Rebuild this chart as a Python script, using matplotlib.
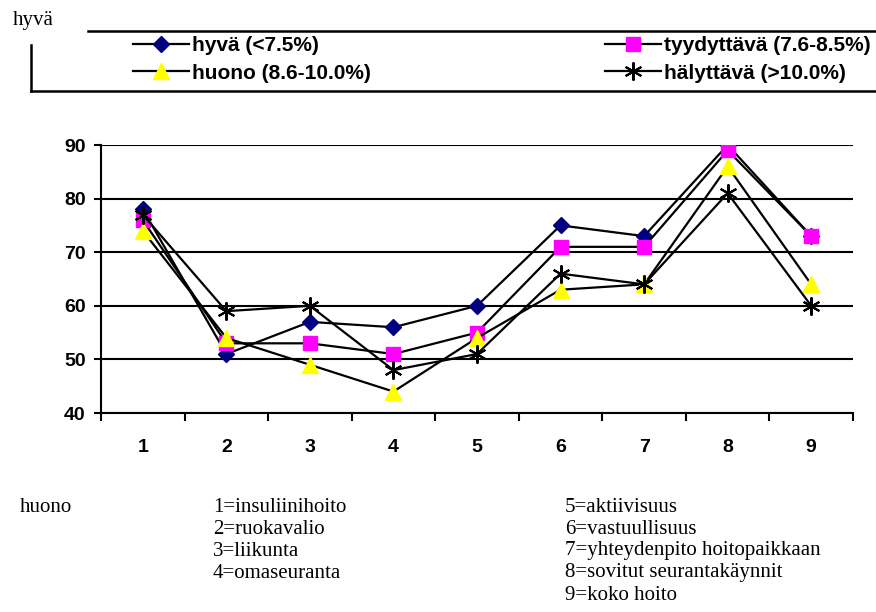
import numpy as np
import matplotlib
matplotlib.use("Agg")
from matplotlib import pyplot as plt
from matplotlib.lines import Line2D

# arvot kysymyksittäin (1-9), ryhmät HbA1c:n mukaan
kysymykset = [1, 2, 3, 4, 5, 6, 7, 8, 9]
hyva = [78, 51, 57, 56, 60, 75, 73, 90, 73]
tyydyttava = [76, 53, 53, 51, 55, 71, 71, 89, 73]
huono = [74, 54, 49, 44, 54, 63, 64, 86, 64]
halyttava = [77, 59, 60, 48, 51, 66, 64, 81, 60]

nimet = ['hyvä (<7.5%)', 'tyydyttävä (7.6-8.5%)',
         'huono (8.6-10.0%)', 'hälyttävä (>10.0%)']
selitteet_vasen = ['1=insuliinihoito', '2=ruokavalio', '3=liikunta', '4=omaseuranta']
selitteet_oikea = ['5=aktiivisuus', '6=vastuullisuus', '7=yhteydenpito hoitopaikkaan',
                   '8=sovitut seurantakäynnit', '9=koko hoito']

plt.rcParams['font.family'] = ['Liberation Sans', 'DejaVu Sans']

W, H = 876, 612
fig = plt.figure(figsize=(W / 100, H / 100), dpi=100)
ax = fig.add_axes([101 / W, 1 - 413 / H, 752 / W, 268 / H])

tyylit = [
    dict(marker='D', color='black', mfc='#000080', mec='#000080', ms=8),
    dict(marker='s', color='black', mfc='#ff00ff', mec='#ff00ff', ms=10),
    dict(marker='^', color='black', mfc='#ffff00', mec='#ffff00', ms=11),
    dict(marker=(6, 2, 0), color='black', mfc='black', mec='black', ms=13, mew=1.5),
]
sarjat = [hyva, tyydyttava, huono, halyttava]
viivat = []
for y, st, nimi in zip(sarjat, tyylit, nimet):
    l, = ax.plot(kysymykset, y, lw=1.6, label=nimi, **st)
    viivat.append(l)

ax.set_xlim(0.5, 9.5)
ax.set_ylim(40, 90)
ax.set_yticks(np.arange(40, 91, 10))
ax.yaxis.grid(True, color='black', lw=1.5)
ax.set_axisbelow(True)
ax.set_xticks(np.arange(0.5, 9.6, 1))
ax.set_xticklabels([])
ax.set_xticks(kysymykset, minor=True)
ax.set_xticklabels([str(k) for k in kysymykset], minor=True)
ax.tick_params(axis='x', which='minor', length=0, pad=19)
ax.tick_params(axis='x', which='major', length=6, width=1.5, direction='out')
ax.tick_params(axis='y', length=5, width=1.5, direction='out', pad=6)
for lab in ax.get_xticklabels(minor=True) + ax.get_yticklabels():
    lab.set_fontsize(14)
    lab.set_fontweight('bold')
for s in ['top', 'right']:
    ax.spines[s].set_visible(False)
for s in ['left', 'bottom']:
    ax.spines[s].set_linewidth(1.5)

# selite kahdessa sarakkeessa
leg_kw = dict(frameon=False, handlelength=2.7, handletextpad=0.12,
              labelspacing=0.42, prop={'weight': 'bold', 'size': 15},
              borderpad=0, borderaxespad=0)
fig.legend([viivat[0], viivat[2]], [nimet[0], nimet[2]], loc='upper left',
           bbox_to_anchor=(133 / W, 1 - 36 / H), **leg_kw)
fig.legend([viivat[1], viivat[3]], [nimet[1], nimet[3]], loc='upper left',
           bbox_to_anchor=(605 / W, 1 - 36 / H), **leg_kw)

# selitteen reunaviivat
for xs, ys in [((88, 876), (31, 31)), ((31, 31), (45, 91)), ((31, 876), (91, 91))]:
    fig.add_artist(Line2D([x / W for x in xs], [1 - y / H for y in ys],
                          color='black', lw=1.8))

serif = ['Liberation Serif', 'DejaVu Serif']
fig.text(13 / W, 1 - 21 / H, 'hyvä', family=serif, fontsize=15, va='center')
fig.text(20 / W, 1 - 507 / H, 'huono', family=serif, fontsize=15, va='center')
for i, t in enumerate(selitteet_vasen):
    fig.text(213 / W, 1 - (507 + 22 * i) / H, t, family=serif, fontsize=15, va='center')
for i, t in enumerate(selitteet_oikea):
    fig.text(565 / W, 1 - (507 + 22 * i) / H, t, family=serif, fontsize=15, va='center')

fig.savefig('out.png', dpi=100)
